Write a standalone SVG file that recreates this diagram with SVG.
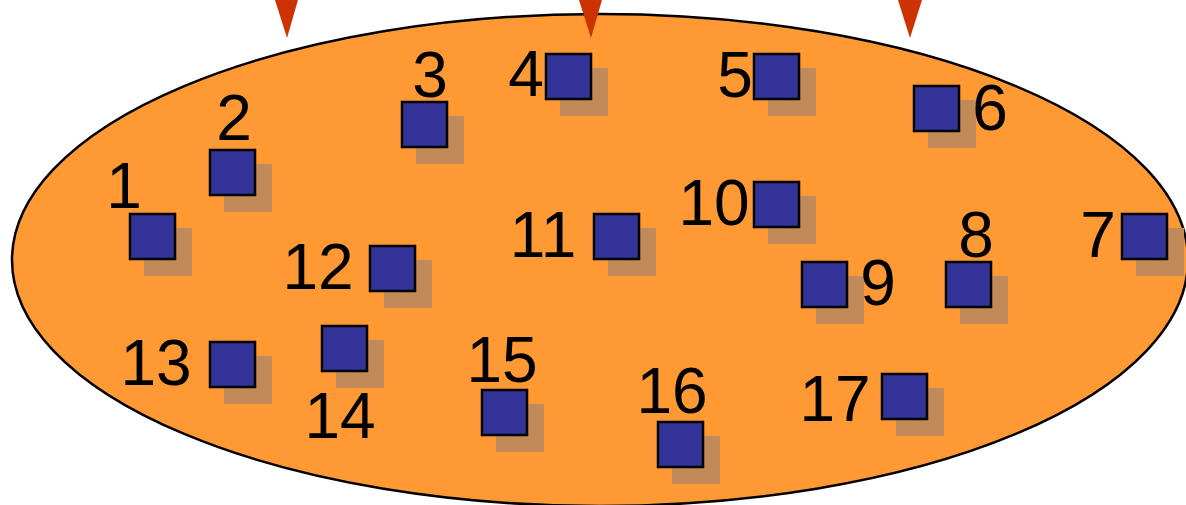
<svg xmlns="http://www.w3.org/2000/svg" width="1186" height="505" viewBox="0 0 1186 505">
<style>
.sh{fill:#C28A58}
.sq{fill:#333399;stroke:#000;stroke-width:2.5}
.lb{font-family:"Liberation Sans",Arial,sans-serif;font-size:64px;fill:#000;text-anchor:middle}
.tri{fill:#CC3300}
</style>
<rect width="1186" height="505" fill="#fff"/>
<g id="region">
<ellipse cx="600" cy="260" rx="588" ry="246" fill="#FF9933" stroke="#000" stroke-width="2.5"/>
</g>
<g id="connectors">
<polygon class="tri" points="275,0 298,0 287,38"/>
<polygon class="tri" points="579,0 602,0 591,38"/>
<polygon class="tri" points="898,0 922,0 910,38"/>
</g>
<g id="n1"><rect class="sh" x="144" y="228" width="48" height="48"/><rect class="sq" x="130" y="214" width="45" height="45"/><text class="lb" x="124" y="208">1</text></g>
<g id="n2"><rect class="sh" x="224" y="164" width="48" height="48"/><rect class="sq" x="210" y="150" width="45" height="45"/><text class="lb" x="234" y="140">2</text></g>
<g id="n3"><rect class="sh" x="416" y="116" width="48" height="48"/><rect class="sq" x="402" y="102" width="45" height="45"/><text class="lb" x="430" y="97">3</text></g>
<g id="n4"><rect class="sh" x="560" y="68" width="48" height="48"/><rect class="sq" x="546" y="54" width="45" height="45"/><text class="lb" x="526" y="96">4</text></g>
<g id="n5"><rect class="sh" x="768" y="68" width="48" height="48"/><rect class="sq" x="754" y="54" width="45" height="45"/><text class="lb" x="735" y="97">5</text></g>
<g id="n6"><rect class="sh" x="928" y="100" width="48" height="48"/><rect class="sq" x="914" y="86" width="45" height="45"/><text class="lb" x="990" y="130">6</text></g>
<g id="n7"><rect class="sh" x="1136" y="228" width="48" height="48"/><rect class="sq" x="1122" y="214" width="45" height="45"/><text class="lb" x="1098" y="257">7</text></g>
<g id="n8"><rect class="sh" x="960" y="276" width="48" height="48"/><rect class="sq" x="946" y="262" width="45" height="45"/><text class="lb" x="976" y="257">8</text></g>
<g id="n9"><rect class="sh" x="816" y="276" width="48" height="48"/><rect class="sq" x="802" y="262" width="45" height="45"/><text class="lb" x="878" y="305">9</text></g>
<g id="n10"><rect class="sh" x="768" y="196" width="48" height="48"/><rect class="sq" x="754" y="182" width="45" height="45"/><text class="lb" x="714" y="225">10</text></g>
<g id="n11"><rect class="sh" x="608" y="228" width="48" height="48"/><rect class="sq" x="594" y="214" width="45" height="45"/><text class="lb" x="543" y="257">11</text></g>
<g id="n12"><rect class="sh" x="384" y="260" width="48" height="48"/><rect class="sq" x="370" y="246" width="45" height="45"/><text class="lb" x="318" y="289">12</text></g>
<g id="n13"><rect class="sh" x="224" y="356" width="48" height="48"/><rect class="sq" x="210" y="342" width="45" height="45"/><text class="lb" x="156" y="385">13</text></g>
<g id="n14"><rect class="sh" x="336" y="340" width="48" height="48"/><rect class="sq" x="322" y="326" width="45" height="45"/><text class="lb" x="340" y="438">14</text></g>
<g id="n15"><rect class="sh" x="496" y="404" width="48" height="48"/><rect class="sq" x="482" y="390" width="45" height="45"/><text class="lb" x="502" y="382">15</text></g>
<g id="n16"><rect class="sh" x="672" y="436" width="48" height="48"/><rect class="sq" x="658" y="422" width="45" height="45"/><text class="lb" x="672" y="413">16</text></g>
<g id="n17"><rect class="sh" x="896" y="388" width="48" height="48"/><rect class="sq" x="882" y="374" width="45" height="45"/><text class="lb" x="835" y="421">17</text></g>
</svg>
